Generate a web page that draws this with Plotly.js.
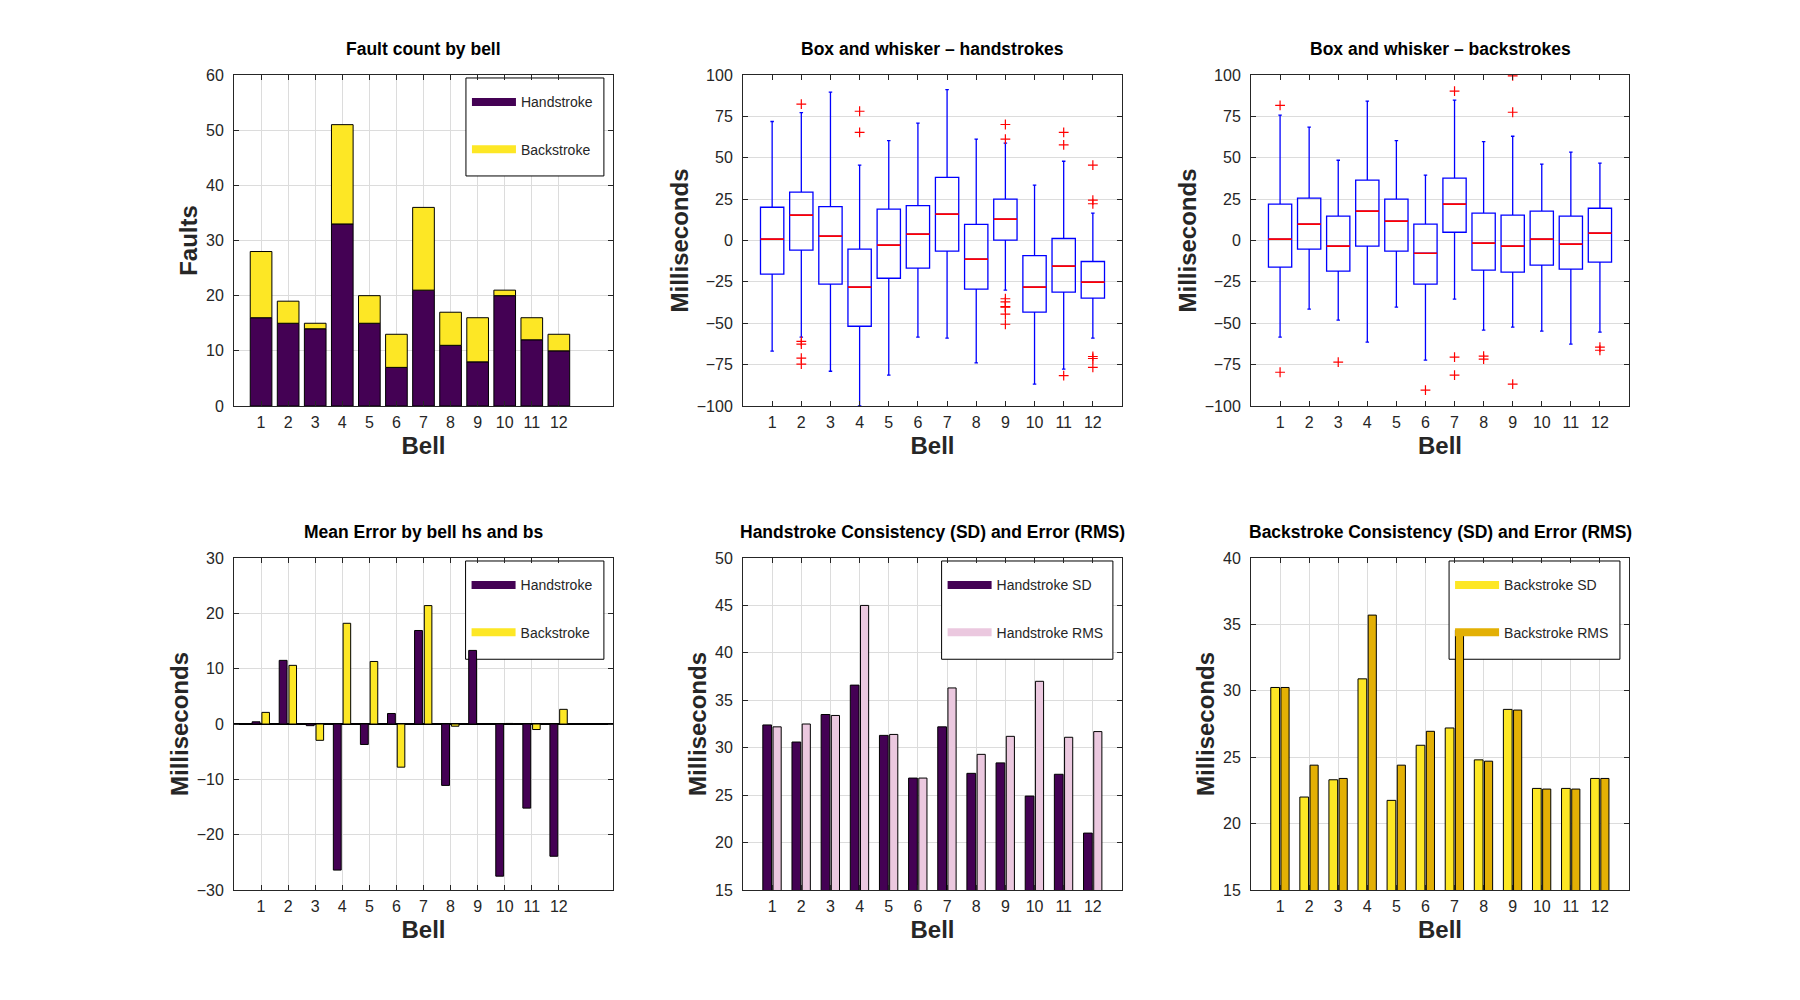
<!DOCTYPE html>
<html>
<head>
<meta charset="utf-8">
<script src="https://cdn.plot.ly/plotly-3.0.1.min.js"></script>
<style>
  body { margin: 0; background: #fff; }
  #chart { width: 1800px; height: 1000px; }
</style>
</head>
<body>
<div id="chart"></div>
<script>
// ---- data ----
const bells = [1, 2, 3, 4, 5, 6, 7, 8, 9, 10, 11, 12];

// fault counts (stacked)
const faultsHand = [16, 15, 14, 33, 15, 7, 21, 11, 8, 20, 12, 10];
const faultsBack = [12, 4, 1, 18, 5, 6, 15, 6, 8, 1, 4, 3];

// box and whisker, handstrokes (ms)
const hsLow    = [-66.9, -58.4, -79.0, -100, -81.4, -58.4, -59.0, -73.9, -30.0, -86.8, -77.7, -59.0];
const hsQ1     = [-20.3, -5.8, -26.4, -51.8, -22.8, -16.7, -6.4, -29.4, 0.2, -43.3, -31.2, -34.8];
const hsMedian = [0.8, 15.3, 2.6, -28.2, -2.8, 3.8, 15.9, -11.3, 12.9, -28.2, -15.5, -25.2];
const hsQ3     = [20.1, 29.2, 20.5, -5.2, 18.9, 21.1, 38.1, 9.7, 25.0, -9.1, 1.2, -12.7];
const hsHigh   = [71.9, 77.3, 89.6, 45.5, 60.4, 70.9, 91.2, 61.2, 58.8, 33.4, 47.9, 16.5];
const hsOutBell = [2, 2, 2, 2, 2, 4, 4, 9, 9, 9, 9, 9, 9, 9, 9, 11, 11, 11, 12, 12, 12, 12, 12, 12];
const hsOutMs   = [82.4, -61.0, -62.6, -71.1, -74.7, 78.1, 65.3, 70.1, 61.2, -35.2, -37.1, -39.9, -40.3, -44.5, -50.6,
                   65.3, 57.8, -81.6, 45.5, 24.4, 22.2, -70.1, -71.3, -76.7];

// box and whisker, backstrokes (ms)
const bsLow    = [-58.4, -41.5, -48.1, -61.4, -40.3, -72.3, -35.4, -54.2, -52.4, -54.8, -62.6, -55.4];
const bsQ1     = [-16.1, -5.2, -18.5, -3.4, -6.4, -26.4, 5.0, -17.9, -19.1, -14.9, -17.3, -13.1];
const bsMedian = [0.8, 9.9, -3.4, 17.7, 11.7, -7.7, 22.0, -1.6, -3.4, 0.8, -2.2, 4.4];
const bsQ3     = [22.0, 25.6, 14.7, 36.5, 25.0, 9.9, 37.7, 16.5, 15.3, 17.7, 14.7, 19.5];
const bsHigh   = [75.7, 68.5, 48.5, 84.2, 60.4, 39.5, 84.8, 59.8, 63.0, 46.1, 53.4, 46.7];
const bsOutBell = [1, 1, 3, 6, 7, 7, 7, 8, 8, 9, 9, 9, 12, 12];
const bsOutMs   = [81.6, -79.6, -73.5, -90.4, 90.2, -70.5, -81.4, -69.9, -71.7, 99.5, 77.5, -86.8, -64.4, -66.3];

// mean error by bell (ms)
const meanHand = [0.4, 11.5, -0.3, -26.4, -3.7, 1.9, 16.9, -11.1, 13.3, -27.5, -15.2, -23.9];
const meanBack = [2.1, 10.6, -2.95, 18.2, 11.3, -7.8, 21.4, -0.4, 0.0, 0.1, -1.0, 2.65];

// consistency (SD) and error (RMS), ms
const hsSD  = [32.4, 30.6, 33.5, 36.6, 31.3, 26.8, 32.2, 27.3, 28.4, 24.9, 27.2, 21.0];
const hsRMS = [32.2, 32.5, 33.4, 45.0, 31.4, 26.8, 36.3, 29.3, 31.2, 37.0, 31.1, 31.7];
const bsSD  = [30.25, 22.0, 23.3, 30.9, 21.75, 25.9, 27.2, 24.8, 28.6, 22.65, 22.65, 23.4];
const bsRMS = [30.25, 24.4, 23.4, 35.7, 24.4, 26.95, 34.57, 24.7, 28.55, 22.6, 22.6, 23.4];

// ---- styling ----
const FONT = 'Liberation Sans, Arial, sans-serif';
const INK = '#262626';
const PURPLE = '#440154';
const YELLOW = '#fde725';
const PINK = '#ebc8df';
const GOLD = '#e3b005';
const BLUE = '#0000ff';
const W = 1800, H = 1000;

// subplot frames in pixels [left, right, top, bottom]
const cols = [[234, 613], [743, 1122], [1251, 1629]];
const rows = [[75, 406], [558, 890]];

// axis ranges per subplot
const xr = { '': [0, 14], 2: [0, 13], 3: [0, 13], 4: [0, 14], 5: [0, 13], 6: [0, 13] };
const yr = { '': [0, 60], 2: [-100, 100], 3: [-100, 100], 4: [-30, 30], 5: [15, 50], 6: [15, 40] };

function xAxis(n, col, grid) {
  return {
    anchor: 'y' + n,
    domain: [cols[col][0] / W, cols[col][1] / W],
    range: xr[n],
    tickvals: bells,
    ticks: 'inside', ticklen: 5, tickcolor: INK, tickwidth: 1,
    showline: true, linecolor: INK, linewidth: 1, mirror: 'ticks',
    showgrid: grid, gridcolor: '#dcdcdc', gridwidth: 1,
    zeroline: false,
    tickfont: { family: FONT, size: 16, color: INK },
    ticklabelstandoff: 2,
    title: { text: 'Bell', standoff: 6, font: { family: FONT, size: 24, color: INK, weight: 'bold' } },
    fixedrange: true
  };
}

function yAxis(n, row, dtick, label) {
  return {
    anchor: 'x' + n,
    domain: [1 - rows[row][1] / H, 1 - rows[row][0] / H],
    range: yr[n],
    dtick: dtick,
    tick0: yr[n][0],
    ticks: 'inside', ticklen: 5, tickcolor: INK, tickwidth: 1,
    showline: true, linecolor: INK, linewidth: 1, mirror: 'ticks',
    showgrid: true, gridcolor: '#dcdcdc', gridwidth: 1,
    zeroline: false,
    tickfont: { family: FONT, size: 16, color: INK },
    ticklabelstandoff: 6,
    title: { text: label, standoff: 1, font: { family: FONT, size: 24, color: INK, weight: 'bold' } },
    fixedrange: true
  };
}

// legend frame, as fractions of the subplot: left edge differs with text length
const legRight = 0.976, legTop = 0.991, legBottom = 0.695;

function legendBox(col, row, left) {
  const c = cols[col];
  return {
    x: (c[0] + left * (c[1] - c[0]) + 1) / W, xanchor: 'left',
    y: 1 - (rows[row][0] + 1) / H, yanchor: 'top',
    bgcolor: 'rgba(0,0,0,0)', borderwidth: 0,
    font: { family: FONT, size: 14, color: INK },
    title: { text: ' ', font: { family: FONT, size: 8 } },
    itemwidth: 44, tracegroupgap: 26,
    itemclick: false, itemdoubleclick: false
  };
}

// white framed panel between grid and bars, so bars run over it as in the original
function legendFrame(n, left) {
  const a = xr[n], b = yr[n];
  const fx = f => a[0] + f * (a[1] - a[0]);
  const fy = f => b[0] + f * (b[1] - b[0]);
  return {
    type: 'rect', layer: 'between',
    xref: 'x' + n, yref: 'y' + n,
    x0: fx(left), x1: fx(legRight), y0: fy(legBottom), y1: fy(legTop),
    fillcolor: '#ffffff', line: { color: '#000000', width: 1 }
  };
}

// a legend-only line so the key looks like a flat colour strip
function key(name, color, n, leg) {
  return {
    type: 'scatter', mode: 'lines', x: [null], y: [null],
    xaxis: 'x' + n, yaxis: 'y' + n, name: name, legend: leg, legendgroup: leg + name,
    line: { color: color, width: 8 }, hoverinfo: 'skip'
  };
}

function bars(x, y, color, n, offset, width, base) {
  const t = {
    type: 'bar', x: x, y: y, xaxis: 'x' + n, yaxis: 'y' + n,
    offset: offset, width: width,
    marker: { color: color, line: { color: '#000000', width: 1 } },
    showlegend: false, hoverinfo: 'x+y'
  };
  if (base) t.base = base;
  return t;
}

function boxes(low, q1, med, q3, high, color, n, whisk, lw) {
  return {
    type: 'box', x: bells, q1: q1, median: med, q3: q3,
    lowerfence: low, upperfence: high,
    xaxis: 'x' + n, yaxis: 'y' + n, width: 0.8, whiskerwidth: whisk,
    boxpoints: false, fillcolor: 'rgba(0,0,0,0)',
    line: { color: color, width: lw },
    showlegend: false, hoverinfo: 'skip'
  };
}

function outliers(x, y, n) {
  return {
    type: 'scatter', mode: 'markers', x: x, y: y, xaxis: 'x' + n, yaxis: 'y' + n,
    marker: { symbol: 'cross-thin', size: 7, line: { color: '#ff0000', width: 1.2 } },
    showlegend: false, hoverinfo: 'y'
  };
}

const traces = [
  // fault count by bell
  bars(bells, faultsHand, PURPLE, '', -0.4, 0.8),
  bars(bells, faultsBack, YELLOW, '', -0.4, 0.8, faultsHand),
  key('Handstroke', PURPLE, '', 'legend'),
  key('Backstroke', YELLOW, '', 'legend'),

  // handstroke boxes, red median drawn on top
  boxes(hsLow, hsQ1, hsMedian, hsQ3, hsHigh, BLUE, 2, 0.15, 1.3),
  boxes(hsMedian, hsMedian, hsMedian, hsMedian, hsMedian, '#ff0000', 2, 0, 1.7),
  outliers(hsOutBell, hsOutMs, 2),

  // backstroke boxes
  boxes(bsLow, bsQ1, bsMedian, bsQ3, bsHigh, BLUE, 3, 0.15, 1.3),
  boxes(bsMedian, bsMedian, bsMedian, bsMedian, bsMedian, '#ff0000', 3, 0, 1.7),
  outliers(bsOutBell, bsOutMs, 3),

  // mean error
  bars(bells, meanHand, PURPLE, 4, -0.33, 0.29),
  bars(bells, meanBack, YELLOW, 4, 0.03, 0.28),
  key('Handstroke', PURPLE, 4, 'legend2'),
  key('Backstroke', YELLOW, 4, 'legend2'),

  // handstroke SD / RMS
  bars(bells, hsSD, PURPLE, 5, -0.32, 0.30),
  bars(bells, hsRMS, PINK, 5, 0.03, 0.28),
  key('Handstroke SD', PURPLE, 5, 'legend3'),
  key('Handstroke RMS', PINK, 5, 'legend3'),

  // backstroke SD / RMS
  bars(bells, bsSD, YELLOW, 6, -0.32, 0.30),
  bars(bells, bsRMS, GOLD, 6, 0.03, 0.28),
  key('Backstroke SD', YELLOW, 6, 'legend4'),
  key('Backstroke RMS', GOLD, 6, 'legend4')
];

const titles = [
  ['Fault count by bell', 0, 0],
  ['Box and whisker \u2013 handstrokes', 1, 0],
  ['Box and whisker \u2013 backstrokes', 2, 0],
  ['Mean Error by bell hs and bs', 0, 1],
  ['Handstroke Consistency (SD) and Error (RMS)', 1, 1],
  ['Backstroke Consistency (SD) and Error (RMS)', 2, 1]
];

const ya4 = yAxis(4, 1, 10, 'Milliseconds');
ya4.zeroline = true; ya4.zerolinecolor = '#000000'; ya4.zerolinewidth = 1.5;

const layout = {
  width: W, height: H,
  margin: { l: 0, r: 0, t: 0, b: 0 },
  paper_bgcolor: '#ffffff', plot_bgcolor: '#ffffff',
  barmode: 'overlay', boxmode: 'overlay',
  font: { family: FONT, color: INK },
  xaxis:  xAxis('', 0, true),
  yaxis:  yAxis('', 0, 10, 'Faults'),
  xaxis2: xAxis(2, 1, false),
  yaxis2: yAxis(2, 0, 25, 'Milliseconds'),
  xaxis3: xAxis(3, 2, false),
  yaxis3: yAxis(3, 0, 25, 'Milliseconds'),
  xaxis4: xAxis(4, 0, true),
  yaxis4: ya4,
  xaxis5: xAxis(5, 1, true),
  yaxis5: yAxis(5, 1, 5, 'Milliseconds'),
  xaxis6: xAxis(6, 2, true),
  yaxis6: yAxis(6, 1, 5, 'Milliseconds'),
  legend:  legendBox(0, 0, 0.612),
  legend2: legendBox(0, 1, 0.611),
  legend3: legendBox(1, 1, 0.524),
  legend4: legendBox(2, 1, 0.524),
  shapes: [
    legendFrame('', 0.612),
    legendFrame(4, 0.611),
    legendFrame(5, 0.524),
    legendFrame(6, 0.524)
  ],
  annotations: titles.map(([text, c, r]) => ({
    text: text, xref: 'paper', yref: 'paper',
    x: (cols[c][0] + cols[c][1]) / 2 / W, xanchor: 'center',
    y: 1 - (rows[r][0] - 26) / H, yanchor: 'middle',
    showarrow: false,
    font: { family: FONT, size: 17.5, color: '#000000', weight: 'bold' }
  }))
};

Plotly.newPlot('chart', traces, layout, { displayModeBar: false, staticPlot: true });
</script>
</body>
</html>
